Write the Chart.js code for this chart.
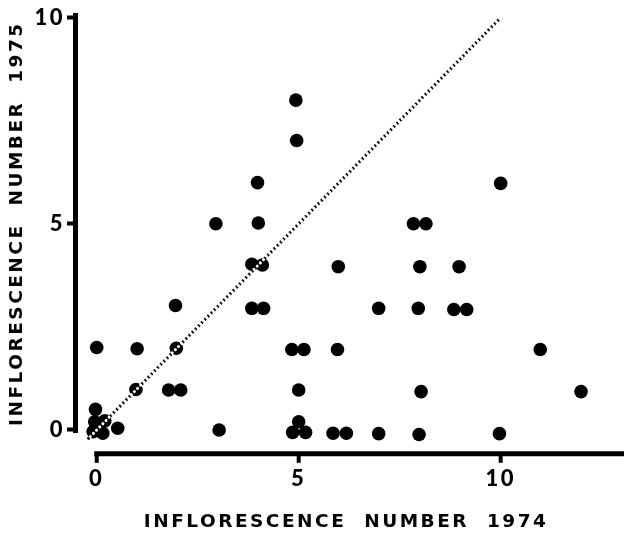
<!DOCTYPE html>
<html>
<head>
<meta charset="utf-8">
<script src="https://cdn.jsdelivr.net/npm/chart.js@4/dist/chart.umd.min.js"></script>
<style>
  body { margin: 0; background: #ffffff; }
  canvas { display: block; }
</style>
</head>
<body>
<canvas id="inflorescenceChart" width="624" height="536"></canvas>
<script>
// inflorescence counts per plant (small offsets = overlapping dots)
const number1974 = [
  0, -0.03, -0.05, 0.2, -0.09, 0.15, 0.04, 0.52,
  1, 0.97, 1.78, 2.08, 1.95, 1.97,
  2.95, 3.03,
  3.84, 4.1, 3.98, 4.0, 3.84, 4.13,
  4.93, 4.95, 4.83, 5.13, 5.0, 5.0, 4.85, 5.17,
  5.98, 5.96, 5.85, 6.18,
  6.98, 6.98,
  7.84, 8.15, 8.0, 7.96, 8.03, 7.98,
  8.97, 8.84, 9.16,
  10.0, 9.97, 10.98, 11.99
];
const number1975 = [
  2, 0.5, 0.2, 0.22, -0.04, -0.08, 0.05, 0.04,
  1.97, 0.98, 0.97, 0.97, 3.02, 1.98,
  5.0, 0,
  4.02, 4.0, 6.0, 5.02, 2.95, 2.95,
  8.0, 7.02, 1.95, 1.95, 0.97, 0.2, -0.06, -0.06,
  3.96, 1.95, -0.08, -0.08,
  2.95, -0.09,
  5.0, 5.0, 3.96, 2.95, 0.93, -0.11,
  3.96, 2.92, 2.92,
  5.98, -0.09, 1.95, 0.93
];

// 1:1 reference line
const diagonalX = [-0.2, 10];
const diagonalY = [-0.2, 10];

const xTickValues = [0, 5, 10];
const yTickValues = [0, 5, 10];

const xAxisTitle = "INFLORESCENCE  NUMBER  1974";
const yAxisTitle = "INFLORESCENCE  NUMBER  1975";

const xAxisLevel = -0.58; // y value where the detached x axis sits
const INK = "#000000";

const points = number1974.map((x, i) => ({ x, y: number1975[i] }));
const diagonal = diagonalX.map((x, i) => ({ x, y: diagonalY[i] }));

// the x axis is drawn apart from the plot, below the lowest dots
const detachedAxis = {
  id: "detachedAxis",
  beforeDraw(chart) {
    chart.ctx.letterSpacing = "2.5px";
  },
  afterDraw(chart) {
    const { ctx, scales } = chart;
    const yPos = scales.y.getPixelForValue(xAxisLevel);
    const xStart = scales.x.getPixelForValue(0) - 2.5;
    ctx.save();
    ctx.strokeStyle = INK;
    ctx.lineWidth = 5;
    ctx.beginPath();
    ctx.moveTo(xStart, yPos);
    ctx.lineTo(chart.width, yPos);
    ctx.stroke();
    ctx.lineWidth = 4;
    xTickValues.forEach((v) => {
      const px = scales.x.getPixelForValue(v);
      ctx.beginPath();
      ctx.moveTo(px, yPos);
      ctx.lineTo(px, yPos + 9);
      ctx.stroke();
    });
    ctx.restore();
    ctx.letterSpacing = "0px";
  }
};

new Chart(document.getElementById("inflorescenceChart"), {
  type: "scatter",
  data: {
    datasets: [
      {
        label: "diagonal gaps",
        type: "line",
        data: diagonal,
        borderColor: "#ffffff",
        borderWidth: 3,
        borderDash: [0.1, 4.4],
        borderDashOffset: 2.2,
        borderCapStyle: "round",
        pointRadius: 0,
        fill: false,
        clip: false,
        order: 0
      },
      {
        label: "plants",
        data: points,
        backgroundColor: INK,
        borderColor: INK,
        borderWidth: 0,
        pointRadius: 6.8,
        pointHoverRadius: 6.8,
        clip: false,
        order: 1
      },
      {
        label: "1:1",
        type: "line",
        data: diagonal,
        borderColor: INK,
        borderWidth: 3.2,
        borderDash: [0.1, 4.4],
        borderCapStyle: "round",
        pointRadius: 0,
        fill: false,
        clip: false,
        order: 2
      }
    ]
  },
  options: {
    responsive: false,
    animation: false,
    events: [],
    layout: {
      padding: { top: 12, right: 0, bottom: 0, left: 0 }
    },
    plugins: {
      legend: { display: false },
      tooltip: { enabled: false }
    },
    scales: {
      x: {
        type: "linear",
        min: -0.538,
        max: 12.885,
        afterFit: (scale) => { scale.height = 104; },
        afterBuildTicks: (scale) => { scale.ticks = xTickValues.map((value) => ({ value })); },
        border: { display: false },
        grid: { display: false },
        ticks: {
          color: INK,
          padding: 26,
          font: { family: "Lato", size: 22, weight: "900" },
          callback: (value) => value
        },
        title: {
          display: true,
          text: xAxisTitle,
          color: INK,
          padding: { top: 0, bottom: 3 },
          font: { family: "DejaVu Sans", size: 18.5, weight: "bold" }
        }
      },
      y: {
        type: "linear",
        min: -0.05,
        max: 10.06,
        afterFit: (scale) => { scale.width = 75; },
        afterBuildTicks: (scale) => { scale.ticks = yTickValues.map((value) => ({ value })); },
        border: { display: true, color: INK, width: 5 },
        grid: {
          display: true,
          drawOnChartArea: false,
          drawTicks: true,
          tickLength: 8,
          tickWidth: 4,
          tickColor: INK
        },
        ticks: {
          color: INK,
          padding: 2,
          font: { family: "Lato", size: 22, weight: "900" },
          callback: (value) => value
        },
        title: {
          display: true,
          text: yAxisTitle,
          color: INK,
          padding: { top: 6, bottom: 0 },
          font: { family: "DejaVu Sans", size: 18.5, weight: "bold" }
        }
      }
    }
  },
  plugins: [detachedAxis]
});
</script>
</body>
</html>
